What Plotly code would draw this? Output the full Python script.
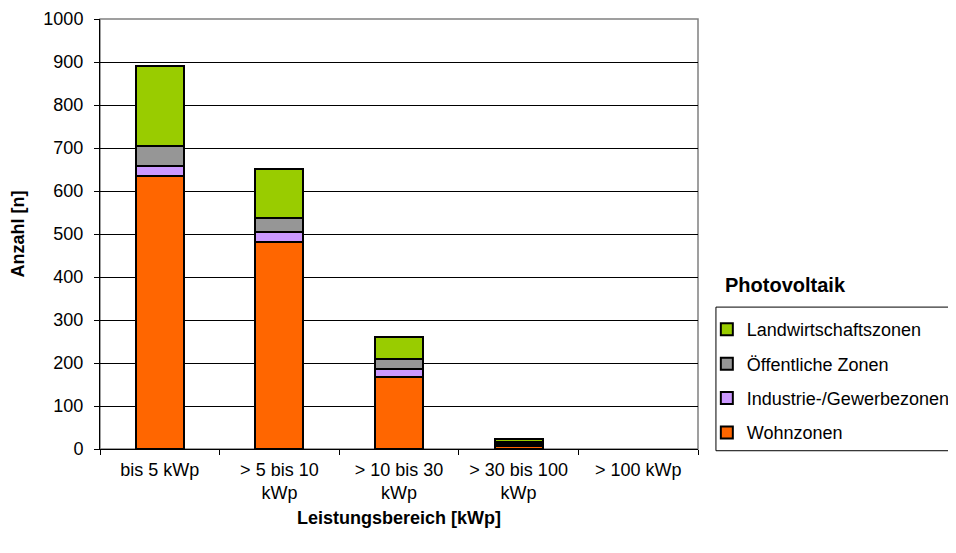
import plotly.graph_objects as go

categories = ["bis 5 kWp", "> 5 bis 10<br>kWp", "> 10 bis 30<br>kWp", "> 30 bis 100<br>kWp", "> 100 kWp"]
wohnzonen = [634, 481, 167, 8, None]
industrie = [24, 24, 18, 4, None]
oeffentlich = [47, 32, 25, 5, None]
landwirtschaft = [185, 115, 51, 7, None]

series = [
    ("Wohnzonen", wohnzonen, "#FF6600", 4),
    ("Industrie-/Gewerbezonen", industrie, "#CC99FF", 3),
    ("Öffentliche Zonen", oeffentlich, "#969696", 2),
    ("Landwirtschaftszonen", landwirtschaft, "#99CC00", 1),
]

FONT = "Liberation Sans, Arial, sans-serif"
FS = 18

fig = go.Figure()
for name, vals, col, rank in series:
    fig.add_trace(go.Bar(
        x=categories, y=vals, name=name, legendgroup=name, legendrank=rank,
        marker=dict(color=col, line=dict(color="#000000", width=2)),
        width=0.4,
    ))

fig.update_layout(
    width=956, height=553,
    margin=dict(l=92, r=266, t=11, b=112, autoexpand=False),
    barmode="stack",
    paper_bgcolor="white", plot_bgcolor="white",
    font=dict(family=FONT, size=FS, color="#000000"),
    showlegend=True,
    legend=dict(
        xref="container", yref="container",
        x=0.731, xanchor="left", y=0.452, yanchor="top",
        traceorder="grouped", tracegroupgap=8,
        borderwidth=0, bgcolor="rgba(0,0,0,0)",
        font=dict(family=FONT, size=FS, color="#000000"),
        itemwidth=30,
    ),
    xaxis=dict(
        type="category", tickson="boundaries", ticks="outside", ticklen=5,
        tickcolor="#000000", showline=True, linecolor="#000000", linewidth=1,
        showgrid=False, tickfont=dict(size=FS), automargin=False,
        ticklabelstandoff=4,
        title=dict(text="<b>Leistungsbereich [kWp]</b>", font=dict(size=FS), standoff=9),
    ),
    yaxis=dict(
        range=[0, 1000], dtick=100, ticks="outside", ticklen=5,
        tickcolor="#000000", showline=True, linecolor="#000000", linewidth=1,
        showgrid=True, gridcolor="#000000", gridwidth=1, automargin=False,
        tickfont=dict(size=FS), zeroline=False, ticklabelstandoff=7,
        title=dict(text="<b>Anzahl [n]</b>", font=dict(size=FS), standoff=14),
    ),
    shapes=[
        dict(type="rect", xref="paper", yref="paper", x0=0, x1=1, y0=0, y1=1,
             line=dict(color="#808080", width=1.5), layer="below"),
        dict(type="rect", xref="paper", yref="paper", x0=1.030, x1=1.5, y0=-0.004, y1=0.330,
             line=dict(color="#000000", width=1), fillcolor="white", layer="below"),
    ],
    annotations=[dict(text="<b>Photovoltaik</b>", xref="paper", yref="paper",
                      x=1.042, y=0.381, xanchor="left", yanchor="middle",
                      showarrow=False, font=dict(size=20))],
)

fig.write_html("out.html")
